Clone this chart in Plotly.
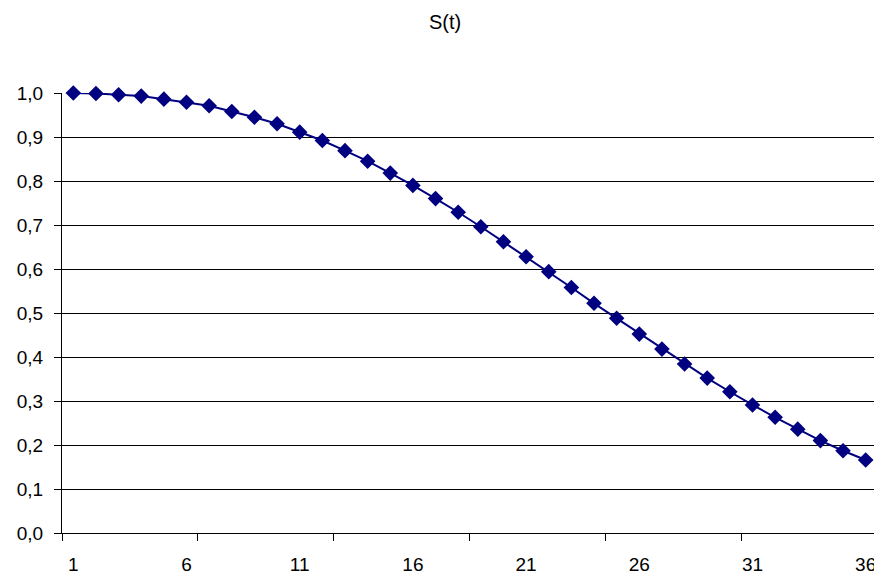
import plotly.graph_objects as go

t = list(range(1, 37))
s_values = [1.000, 0.999, 0.996, 0.993, 0.986, 0.979, 0.971, 0.958, 0.945, 0.930,
            0.911, 0.892, 0.869, 0.845, 0.818, 0.790, 0.760, 0.729, 0.696, 0.662,
            0.628, 0.594, 0.558, 0.522, 0.488, 0.452, 0.418, 0.384, 0.352, 0.321,
            0.291, 0.263, 0.236, 0.210, 0.187, 0.166]
x_label_vals = [1, 6, 11, 16, 21, 26, 31, 36]
x_tick_marks = [0.5, 6.5, 12.5, 18.5, 24.5, 30.5, 36.5]
y_ticks = [0.0, 0.1, 0.2, 0.3, 0.4, 0.5, 0.6, 0.7, 0.8, 0.9, 1.0]

fig = go.Figure()
fig.add_trace(go.Scatter(
    x=t, y=s_values, mode="lines+markers",
    line=dict(color="#000080", width=2),
    marker=dict(symbol="diamond", size=12, color="#000080"),
    showlegend=False, cliponaxis=False,
))

fig.update_layout(
    width=874, height=567,
    margin=dict(l=54, r=5, t=85, b=42, autoexpand=False),
    paper_bgcolor="white", plot_bgcolor="white",
    separators=",.",
    font=dict(family="Liberation Sans, Arial, sans-serif", size=19, color="black"),
    title=dict(text="S(t)", x=0.5, xanchor="center", y=0.975, yanchor="middle",
               font=dict(size=20, color="black")),
    xaxis=dict(
        range=[0.5, 36.5], tickmode="array", tickvals=x_label_vals,
        ticktext=[str(v) for v in x_label_vals],
        ticks="", showgrid=False, zeroline=False,
        showline=True, linecolor="black", linewidth=1,
        ticklabelstandoff=14, automargin=False,
        minor=dict(tickmode="array", tickvals=x_tick_marks, ticks="outside",
                   ticklen=7, tickcolor="black", tickwidth=1, showgrid=False),
    ),
    yaxis=dict(
        range=[0, 1.0], tickmode="array", tickvals=y_ticks, tickformat=".1f",
        ticks="outside", ticklen=7, tickcolor="black", tickwidth=1,
        showgrid=True, gridcolor="black", gridwidth=1,
        zeroline=False, showline=True, linecolor="black", linewidth=1,
        ticklabelstandoff=7, automargin=False,
    ),
)

fig.write_html("out.html")
